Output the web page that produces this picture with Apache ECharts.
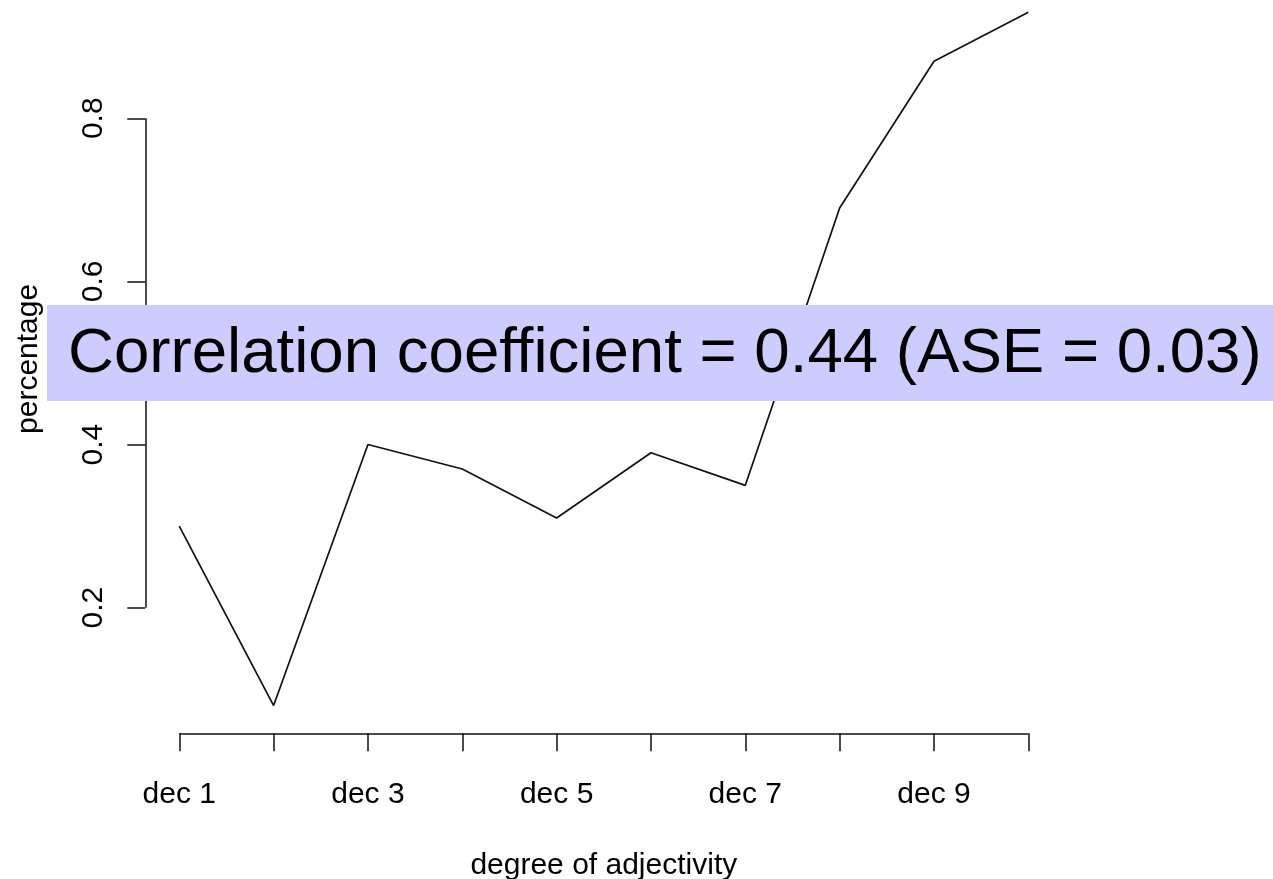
<!DOCTYPE html>
<html>
<head>
<meta charset="utf-8">
<script src="https://cdn.jsdelivr.net/npm/echarts@6/dist/echarts.min.js"></script>
<style>
  html, body { margin: 0; padding: 0; background: #fff; }
  #chart { width: 1273px; height: 879px; }
</style>
</head>
<body>
<div id="chart"></div>
<script>
// data
var deciles = [1, 2, 3, 4, 5, 6, 7, 8, 9, 10];
var percentage = [0.30, 0.08, 0.40, 0.37, 0.31, 0.39, 0.35, 0.69, 0.87, 0.93];
var xTickValues = [1, 2, 3, 4, 5, 6, 7, 8, 9, 10];
var xLabelValues = [1, 3, 5, 7, 9];
var yTickValues = [0.2, 0.4, 0.6, 0.8];
var corrText = 'Correlation coefficient = 0.44 (ASE = 0.03)';

// R style 4% padding around the data range
var xMin = 0.64, xMax = 10.36;
var yMin = 0.046, yMax = 0.964;

var font = '"Liberation Sans", Arial, Helvetica, sans-serif';

var myChart = echarts.init(document.getElementById('chart'));

var seriesData = deciles.map(function(d, i) {
    return [d, percentage[i]];
});

var option = {
    backgroundColor: '#fff',
    animation: false,
    grid: {
        left: 145.3,
        right: 210.7,
        top: -15.5,
        bottom: 145.7,
        outerBoundsMode: 'none'
    },
    xAxis: {
        type: 'value',
        min: xMin,
        max: xMax,
        name: 'degree of adjectivity',
        nameLocation: 'middle',
        nameGap: 117,
        nameTextStyle: { fontFamily: font, fontSize: 30, color: '#000' },
        axisLine: { show: false },
        splitLine: { show: false },
        axisTick: {
            show: true,
            length: 18,
            customValues: xTickValues,
            lineStyle: { color: '#111', width: 1.5 }
        },
        axisLabel: {
            customValues: xLabelValues,
            margin: 46,
            fontFamily: font,
            fontSize: 30,
            color: '#000',
            formatter: function(v) { return 'dec ' + v; }
        }
    },
    yAxis: {
        type: 'value',
        min: yMin,
        max: yMax,
        name: 'percentage',
        nameLocation: 'middle',
        nameGap: 102,
        nameTextStyle: { fontFamily: font, fontSize: 30, color: '#000' },
        axisLine: { show: false },
        splitLine: { show: false },
        axisTick: {
            show: true,
            length: 18,
            customValues: yTickValues,
            lineStyle: { color: '#111', width: 1.5 }
        },
        axisLabel: {
            customValues: yTickValues,
            rotate: 90,
            margin: 37,
            fontFamily: font,
            fontSize: 30,
            color: '#000',
            formatter: function(v) { return v.toFixed(1); }
        }
    },
    series: [{
        type: 'line',
        data: seriesData,
        clip: false,
        symbol: 'none',
        lineStyle: { color: '#111', width: 1.7 },
        markLine: {
            silent: true,
            symbol: 'none',
            label: { show: false },
            lineStyle: { color: '#111', width: 1.5, type: 'solid' },
            data: [
                [{ coord: [xTickValues[0], yMin] }, { coord: [xTickValues[xTickValues.length - 1], yMin] }],
                [{ coord: [xMin, yTickValues[0]] }, { coord: [xMin, yTickValues[yTickValues.length - 1]] }]
            ]
        }
    }],
    graphic: [{
        type: 'rect',
        z: 100,
        shape: { x: 47, y: 305, width: 1226, height: 96 },
        style: { fill: '#ccccff' }
    }, {
        type: 'text',
        z: 101,
        x: 68,
        y: 354,
        style: {
            text: corrText,
            font: '63.6px ' + font,
            fill: '#000',
            verticalAlign: 'middle'
        }
    }]
};

myChart.setOption(option);
</script>
</body>
</html>
